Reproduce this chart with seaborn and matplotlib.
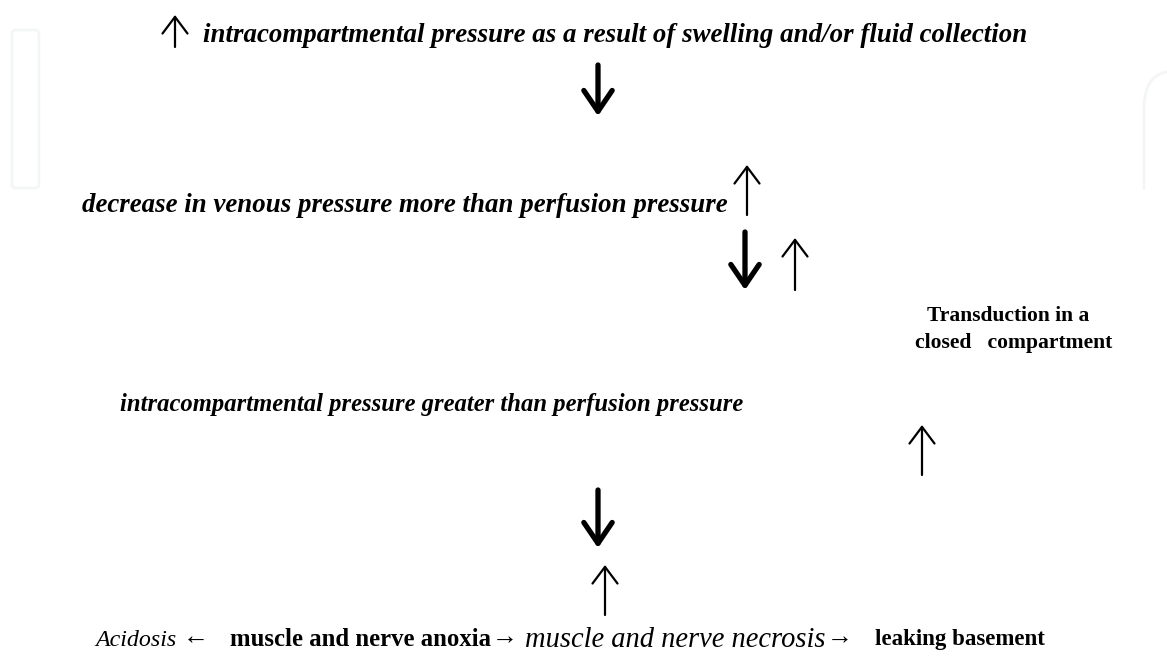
import seaborn as sns
import matplotlib.pyplot as plt
import numpy as np
from matplotlib.patches import FancyBboxPatch
from matplotlib.path import Path
from matplotlib.patches import PathPatch

sns.set_theme(style="white")
plt.rcParams['font.family'] = ['Liberation Serif', 'DejaVu Serif']

# flowchart text, one entry per piece
labels = [
    "intracompartmental pressure as a result of swelling and/or fluid collection",
    "decrease in venous pressure more than perfusion pressure",
    "Transduction in a",
    "closed   compartment",
    "intracompartmental pressure greater than perfusion pressure",
    "Acidosis",
    "\u2190",
    "muscle and nerve anoxia",
    "\u2192",
    "muscle and nerve necrosis",
    "\u2192",
    "leaking basement",
]
styles = ["italic", "italic", "normal", "normal", "italic",
          "italic", "normal", "normal", "normal", "italic", "normal", "normal"]
weights = ["bold", "bold", "bold", "bold", "bold",
           "normal", "normal", "bold", "normal", "normal", "normal", "bold"]
glyph_arrow = [False] * 6 + [True, False, True, False, True, False]
# bottom-row pieces whose size is tied to the "anoxia" piece
bottom_row = [False] * 5 + [True] * 6 + [False]
# arrow glyphs that sit right after the previous word, with this gap in px
follows = [None] * 6 + [6, None, 1, None, 1, None]

# layout in pixels: left edge, right edge, vertical centre
lefts = [203, 82, 927, 915, 120, 95, 180, 230, 495, 525, 843, 875]
rights = [1030, 727, 1090, 1113, 745, 172, 205, 492, 520, 841, 866, 1045]
centres = [35, 205, 316, 343, 405, 640, 638, 640, 638, 640, 638, 640]

# arrows: x, tail y, head y, bold?
arrow_x = [175, 598, 747, 745, 795, 922, 598, 605]
arrow_tail = [47, 65, 215, 232, 290, 475, 490, 615]
arrow_head = [15, 116, 165, 290, 238, 425, 548, 565]
arrow_bold = [False, True, False, True, False, False, True, False]

fig = plt.figure(figsize=(11.67, 6.57), dpi=100)
ax = fig.add_axes([0, 0, 1, 1])
ax.set_xlim(0, 1167)
ax.set_ylim(657, 0)
ax.axis("off")

# faint watermark shapes
ax.add_patch(FancyBboxPatch((12, 30), 27, 158, boxstyle="round,pad=0,rounding_size=4",
                            fill=False, ec="#f4f5f6", lw=2))
arch = Path([(1144, 190), (1144, 110), (1144, 75), (1167, 72)],
            [Path.MOVETO, Path.LINETO, Path.CURVE3, Path.CURVE3])
ax.add_patch(PathPatch(arch, fill=False, ec="#f4f5f6", lw=2))

texts = []
for lab, st, w, x, y in zip(labels, styles, weights, lefts, centres):
    t = ax.text(x, y, lab, fontstyle=st, fontweight=w, fontsize=17,
                ha="left", va="center", color="black")
    texts.append(t)

# fit each text to its measured width
fig.canvas.draw()
r = fig.canvas.get_renderer()
fits = []
for t, x0, x1 in zip(texts, lefts, rights):
    wpx = t.get_window_extent(r).width
    fits.append(t.get_fontsize() * (x1 - x0) / wpx)

base = fits[7]  # bold "anoxia" sets the bottom row size
for t, f, g, b in zip(texts, fits, glyph_arrow, bottom_row):
    if g:
        t.set_fontsize(base * 1.05)
    elif b:
        t.set_fontsize(float(np.clip(f, 0.97 * base, 1.15 * base)))
    else:
        t.set_fontsize(f)

fig.canvas.draw()
inv = ax.transData.inverted()
for i, gap in enumerate(follows):
    if gap is not None:
        right_px = texts[i - 1].get_window_extent(r).x1
        xr = inv.transform((right_px, 0))[0]
        texts[i].set_x(xr + gap)

for x, ty, hy, b in zip(arrow_x, arrow_tail, arrow_head, arrow_bold):
    if b:
        props = dict(arrowstyle="->,head_length=1.25,head_width=0.85", lw=3.8,
                     color="black", shrinkA=0, shrinkB=0)
    else:
        props = dict(arrowstyle="->,head_length=1.0,head_width=0.75", lw=1.6,
                     color="black", shrinkA=0, shrinkB=0)
    ax.annotate("", xy=(x, hy), xytext=(x, ty), arrowprops=props)

plt.savefig("out.png", dpi=100)
plt.close()
